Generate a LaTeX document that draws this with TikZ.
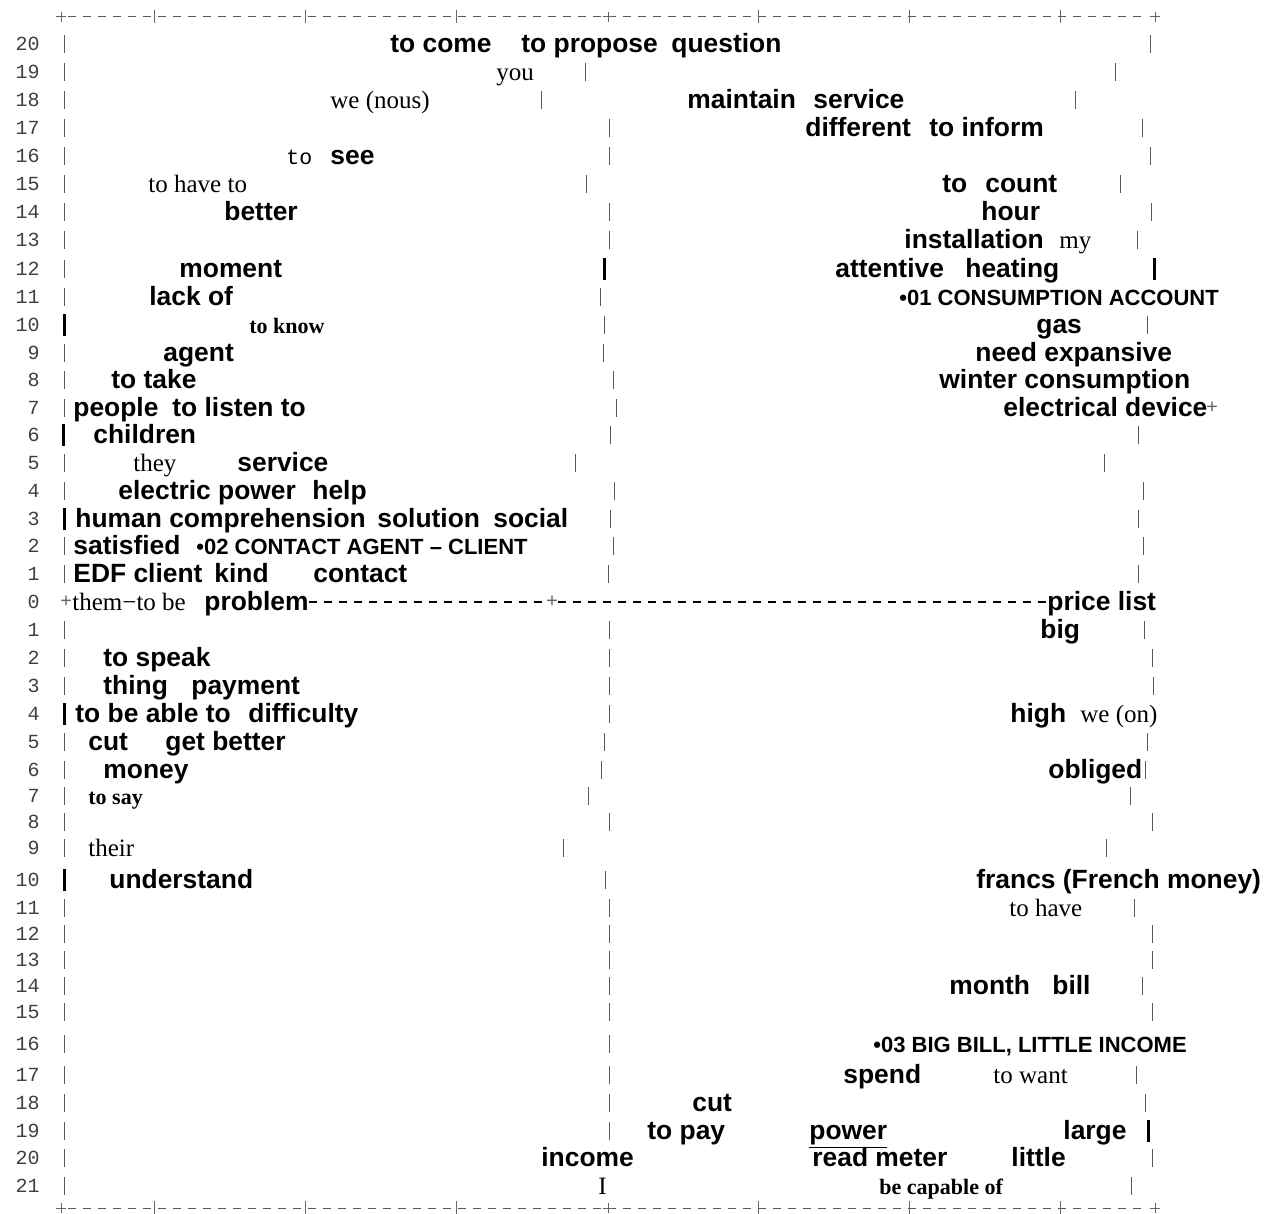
\documentclass[tikz,border=0pt]{standalone}
\usepackage{fontspec}
\setmainfont{Liberation Serif}
\newfontfamily\wordfam{Liberation Sans}
\newfontfamily\monofam{Liberation Mono}
\newcommand{\wordfont}{\wordfam\bfseries\fontsize{13.2}{15}\selectfont}
\newcommand{\capsfont}{\wordfam\bfseries\fontsize{11}{13}\selectfont}
\newcommand{\serifword}{\rmfamily\fontsize{12.5}{14}\selectfont}
\newcommand{\serifbold}{\rmfamily\bfseries\fontsize{11}{13}\selectfont}
\newcommand{\monoword}{\monofam\fontsize{10.8}{12}\selectfont}
\newcommand{\numfont}{\monofam\fontsize{10}{12}\selectfont}

\begin{document}
\begin{tikzpicture}[x=0.5pt,y=-0.5pt,
  wd/.style={anchor=mid west,inner sep=0pt,yshift=-2pt,font=\wordfont},
  theme/.style={anchor=mid west,inner sep=0pt,yshift=-2pt,font=\capsfont},
  sr/.style={anchor=mid west,inner sep=0pt,yshift=-2pt,font=\serifword},
  sb/.style={anchor=mid west,inner sep=0pt,yshift=-2pt,font=\serifbold},
  mw/.style={anchor=mid west,inner sep=0pt,yshift=-2pt,font=\monoword},
  num/.style={anchor=mid east,inner sep=0pt,yshift=-1pt,font=\numfont,text=black!75},
  plus/.style={inner sep=0pt,font=\numfont,text=black!60},
  rule/.style={black!65,line width=0.5pt,dash pattern=on 4pt off 3.5pt},
  axisline/.style={black,line width=0.7pt,dash pattern=on 4pt off 3.5pt},
  tick/.style={black!60,line width=0.5pt},
  thinbar/.style={black!65,line width=0.5pt},
  heavybar/.style={black,line width=1.5pt}]
\fill[white] (0,0) rectangle (1273,1214);
\useasboundingbox (0,0) rectangle (1273,1214);

% frame
\foreach \yy in {17,1208} {
  \draw[rule] (68,\yy) -- (1148,\yy);
  \foreach \x in {154,305,456,758,909,1060}
    \draw[tick] (\x,{\yy-7}) -- (\x,{\yy+6});
  \foreach \x in {61,608,1155}
    \draw[tick] ({\x-5},\yy) -- ({\x+5},\yy) (\x,{\yy-5}) -- (\x,{\yy+5});
}

% row numbers
\foreach \r/\y in {20/44,19/72,18/100,17/128,16/156,15/184,14/212,13/240,12/269,11/297,
  10/325,9/353,8/380,7/408,6/435,5/463,4/491,3/519,2/546,1/574,0/602}
  \node[num] (up\r) at (40,\y) {\r};
\foreach \r/\y in {1/630,2/658,3/686,4/714,5/742,6/770,7/796,8/822,9/848,10/880,11/908,
  12/934,13/960,14/986,15/1012,16/1044,17/1075,18/1103,19/1131,20/1158,21/1186}
  \node[num] (dn\r) at (40,\y) {\r};

% bars
\foreach \y in {44,72,100,128,156,184,212,240,269,297,353,380,408,463,491,546,574,
  630,658,686,742,770,796,822,848,908,934,960,986,1012,1044,1075,1103,1131,1158,1186}
  \draw[thinbar] (64,{\y-9}) -- (64,{\y+9});
\foreach \x/\y in {585/72,541/100,609/128,609/156,586/184,609/212,609/240,600/297,604/325,
  603/353,613/380,616/408,610/435,575/463,614/491,610/519,613/546,608/574,
  609/630,609/658,609/686,609/714,604/742,601/770,588/796,609/822,563/848,605/880,
  609/908,609/934,609/960,609/986,609/1012,609/1044,609/1075,609/1103,609/1131}
  \draw[thinbar] (\x,{\y-9}) -- (\x,{\y+9});
\foreach \x/\y in {1150/44,1115/72,1075/100,1142/128,1150/156,1120/184,1151/212,1137/240,
  1147/325,1138/435,1104/463,1143/491,1138/519,1143/546,1138/574,
  1144/630,1152/658,1153/686,1147/742,1145/770,1130/796,1152/822,1106/848,1134/908,
  1152/934,1152/960,1142/986,1152/1012,1136/1075,1145/1103,1152/1158,1131/1186}
  \draw[thinbar] (\x,{\y-9}) -- (\x,{\y+9});
\foreach \x/\y in {64/325,63/435,64/519,64/714,64/880,604/269,1154/269,1148/1131}
  \draw[heavybar] (\x,{\y-11}) -- (\x,{\y+11});

% upper half
\node[wd] (come) at (390,44) {to come};
\node[wd] (propose) at (521,44) {to propose};
\node[wd] (question) at (671,44) {question};
\node[sr] (you) at (496,72) {you};
\node[sr] (nous) at (330,100) {we (nous)};
\node[wd] (maintain) at (687,100) {maintain};
\node[wd] (service1) at (813,100) {service};
\node[wd] (different) at (805,128) {different};
\node[wd] (inform) at (929,128) {to inform};
\node[mw] (to16) at (286,156) {to};
\node[wd] (see) at (330,156) {see};
\node[sr] (haveto) at (148,184) {to have to};
\node[wd] (to15) at (942,184) {to};
\node[wd] (count) at (985,184) {count};
\node[wd] (better) at (224,212) {better};
\node[wd] (hour) at (981,212) {hour};
\node[wd] (installation) at (904,240) {installation};
\node[sr] (my) at (1059,240) {my};
\node[wd] (moment) at (179,269) {moment};
\node[wd] (attentive) at (835,269) {attentive};
\node[wd] (heating) at (965,269) {heating};
\node[wd] (lack) at (149,297) {lack of};
\node[theme] (theme1) at (899,297) {\textbullet 01 CONSUMPTION ACCOUNT};
\node[sb] (know) at (249,325) {to know};
\node[wd] (gas) at (1036,325) {gas};
\node[wd] (agent) at (163,353) {agent};
\node[wd] (need) at (975,353) {need expansive};
\node[wd] (take) at (111,380) {to take};
\node[wd] (winter) at (939,380) {winter consumption};
\node[wd] (people) at (73,408) {people};
\node[wd] (listen) at (172,408) {to listen to};
\node[wd] (device) at (1003,408) {electrical device};
\node[plus] (p7) at (1212,408) {+};
\node[wd] (children) at (93,435) {children};
\node[sr] (they) at (133,463) {they};
\node[wd] (service2) at (237,463) {service};
\node[wd] (power1) at (118,491) {electric power};
\node[wd] (help) at (312,491) {help};
\node[wd] (human) at (75,519) {human comprehension};
\node[wd] (solution) at (377,519) {solution};
\node[wd] (social) at (493,519) {social};
\node[wd] (satisfied) at (73,546) {satisfied};
\node[theme] (theme2) at (196,546) {\textbullet 02 CONTACT AGENT – CLIENT};
\node[wd] (edf) at (73,574) {EDF client};
\node[wd] (kind) at (214,574) {kind};
\node[wd] (contact) at (313,574) {contact};

% axis
\node[plus] (p0) at (66,602) {+};
\node[sr] (them) at (72,602) {them−to be};
\node[wd] (problem) at (204,602) {problem};
\node[plus] (pm) at (552,602) {+};
\node[wd] (price) at (1047,602) {price list};
\draw[axisline] (problem.east |- pm) -- (pm.west);
\draw[axisline] (pm.east) -- (price.west |- pm);

% lower half
\node[wd] (big) at (1040,630) {big};
\node[wd] (speak) at (103,658) {to speak};
\node[wd] (thing) at (103,686) {thing};
\node[wd] (payment) at (191,686) {payment};
\node[wd] (able) at (75,714) {to be able to};
\node[wd] (difficulty) at (248,714) {difficulty};
\node[wd] (high) at (1010,714) {high};
\node[sr] (on) at (1080,714) {we (on)};
\node[wd] (cut1) at (88,742) {cut};
\node[wd] (getbetter) at (165,742) {get better};
\node[wd] (money) at (103,770) {money};
\node[wd] (obliged) at (1048,770) {obliged};
\node[sb] (say) at (88,796) {to say};
\node[sr] (their) at (88,848) {their};
\node[wd] (understand) at (109,880) {understand};
\node[wd] (francs) at (976,880) {francs (French money)};
\node[sr] (have) at (1009,908) {to have};
\node[wd] (month) at (949,986) {month};
\node[wd] (bill) at (1052,986) {bill};
\node[theme] (theme3) at (873,1044) {\textbullet 03 BIG BILL, LITTLE INCOME};
\node[wd] (spend) at (843,1075) {spend};
\node[sr] (want) at (993,1075) {to want};
\node[wd] (cut2) at (692,1103) {cut};
\node[wd] (pay) at (647,1131) {to pay};
\node[wd] (power2) at (809,1131) {\underline{power}};
\node[wd] (large) at (1063,1131) {large};
\node[wd] (income) at (541,1158) {income};
\node[wd] (meter) at (812,1158) {read meter};
\node[wd] (little) at (1011,1158) {little};
\node[sr] (i) at (598,1186) {I};
\node[sb] (capable) at (879,1186) {be capable of};
\end{tikzpicture}
\end{document}
